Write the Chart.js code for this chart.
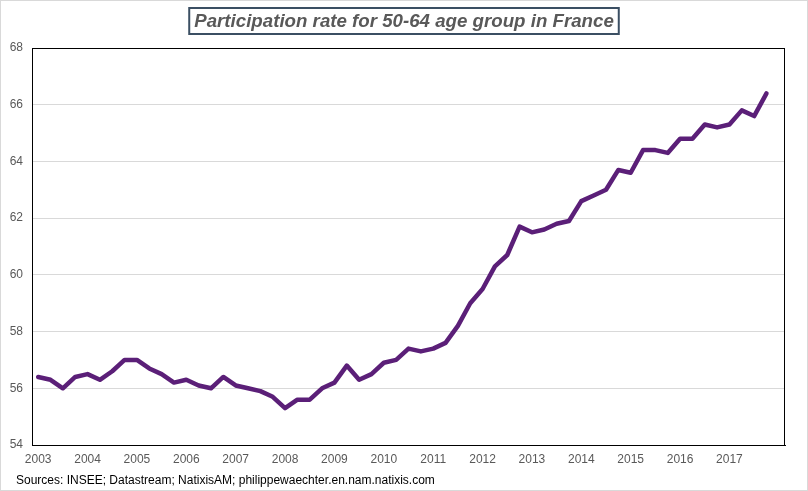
<!DOCTYPE html>
<html>
<head>
<meta charset="utf-8">
<script src="https://cdn.jsdelivr.net/npm/chart.js@4.4.1/dist/chart.umd.min.js"></script>
<style>
  html, body { margin: 0; padding: 0; background: #fff; }
  #wrap { width: 808px; height: 491px; }
</style>
</head>
<body>
<div id="wrap"><canvas id="chart" width="808" height="491"></canvas></div>
<script>
// quarterly participation rate, 50-64 age group, France (%), 2003Q1 .. 2017Q4
const years = ['2003', '2004', '2005', '2006', '2007', '2008', '2009', '2010',
               '2011', '2012', '2013', '2014', '2015', '2016', '2017'];
const quarterNames = ['Q1', 'Q2', 'Q3', 'Q4'];
const participation = [
  56.4, 56.3, 56.0, 56.4,   56.5, 56.3, 56.6, 57.0,   57.0, 56.7, 56.5, 56.2,
  56.3, 56.1, 56.0, 56.4,   56.1, 56.0, 55.9, 55.7,   55.3, 55.6, 55.6, 56.0,
  56.2, 56.8, 56.3, 56.5,   56.9, 57.0, 57.4, 57.3,   57.4, 57.6, 58.2, 59.0,
  59.5, 60.3, 60.7, 61.7,   61.5, 61.6, 61.8, 61.9,   62.6, 62.8, 63.0, 63.7,
  63.6, 64.4, 64.4, 64.3,   64.8, 64.8, 65.3, 65.2,   65.3, 65.8, 65.6, 66.4
];
const yTicks = [54, 56, 58, 60, 62, 64, 66, 68];

const titleText = 'Participation rate for 50-64 age group in France';
const sourceText = 'Sources: INSEE; Datastream; NatixisAM; philippewaechter.en.nam.natixis.com';

// one empty slot at the end, as in the original sheet
const quarters = years.flatMap(y => quarterNames.map(q => y + ' ' + q)).concat(['']);
const values = participation.concat([null]);

const decorations = {
  id: 'decorations',
  beforeDatasetsDraw(chart) {
    const { ctx, chartArea: a } = chart;
    ctx.save();
    ctx.strokeStyle = '#000';
    ctx.lineWidth = 1;
    ctx.strokeRect(Math.round(a.left) + 0.5, Math.round(a.top) + 0.5,
                   Math.round(a.right - a.left) - 1, Math.round(a.bottom - a.top));
    ctx.restore();
  },
  afterDraw(chart) {
    const { ctx, width, height } = chart;
    ctx.save();
    // outer frame
    ctx.strokeStyle = '#d9d9d9';
    ctx.lineWidth = 1;
    ctx.strokeRect(0.5, 0.5, width - 1, height - 1);

    // boxed title
    ctx.font = 'italic bold 18.7px "Liberation Sans", Arial, sans-serif';
    ctx.textAlign = 'center';
    ctx.textBaseline = 'middle';
    const w = ctx.measureText(titleText).width;
    const cx = 404, cy = 21;
    ctx.strokeStyle = '#3b4f63';
    ctx.lineWidth = 2;
    ctx.strokeRect(cx - w / 2 - 5, 8, w + 10, 26);
    ctx.fillStyle = '#595959';
    ctx.fillText(titleText, cx, cy + 1);

    // source note
    ctx.font = '12px "Liberation Sans", Arial, sans-serif';
    ctx.textAlign = 'left';
    ctx.fillStyle = '#000';
    ctx.fillText(sourceText, 16, 481);
    ctx.restore();
  }
};

new Chart(document.getElementById('chart'), {
  type: 'line',
  data: {
    labels: quarters,
    datasets: [{
      label: 'Participation rate 50-64',
      data: values,
      borderColor: '#5b1f78',
      borderWidth: 4.5,
      borderCapStyle: 'round',
      borderJoinStyle: 'round',
      pointRadius: 0,
      tension: 0,
      fill: false
    }]
  },
  options: {
    responsive: false,
    animation: false,
    layout: { padding: { top: 48, left: 0, right: 23, bottom: 0 } },
    plugins: {
      legend: { display: false },
      title: { display: false },
      tooltip: { enabled: false }
    },
    scales: {
      x: {
        type: 'category',
        offset: true,
        grid: { display: false, drawTicks: false },
        border: { display: true, color: '#000', width: 1 },
        ticks: {
          autoSkip: false,
          maxRotation: 0,
          minRotation: 0,
          padding: 7,
          color: '#595959',
          font: { family: '"Liberation Sans", Arial, sans-serif', size: 12 },
          callback: function (val) {
            const l = this.getLabelForValue(val);
            return l.endsWith('Q1') ? l.slice(0, 4) : '';
          }
        },
        afterFit(scale) { scale.height = 46; }
      },
      y: {
        min: yTicks[0],
        max: yTicks[yTicks.length - 1],
        afterBuildTicks(scale) { scale.ticks = yTicks.map(v => ({ value: v })); },
        grid: { color: '#d9d9d9', lineWidth: 1, drawTicks: false },
        border: { display: true, color: '#000', width: 1 },
        ticks: {
          padding: 9,
          color: '#595959',
          font: { family: '"Liberation Sans", Arial, sans-serif', size: 12 }
        },
        afterFit(scale) { scale.width = 32; }
      }
    }
  },
  plugins: [decorations]
});
</script>
</body>
</html>
